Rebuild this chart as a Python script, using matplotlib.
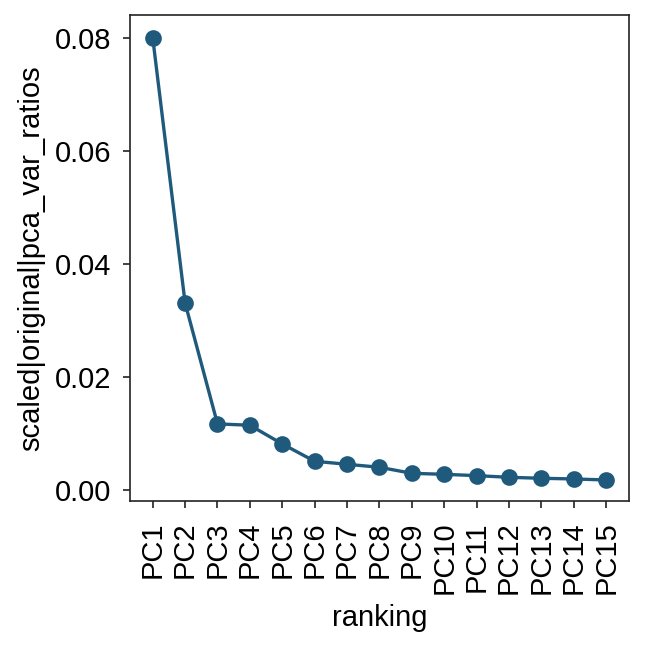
import matplotlib
matplotlib.use("Agg")
import matplotlib.pyplot as plt

categories = [f"PC{i}" for i in range(1, 16)]
values = [0.0801, 0.0331, 0.0117, 0.01146, 0.00815, 0.00508, 0.00455, 0.00402,
          0.00295, 0.00277, 0.00254, 0.00224, 0.00207, 0.00195, 0.00177]

plt.rcParams['font.family'] = ['Liberation Sans', 'DejaVu Sans']
color = '#1f5a7c'

fig = plt.figure(figsize=(4.30, 4.3267), dpi=150)
ax = fig.add_axes([0.2016, 0.2285, 0.7734, 0.7484])
x = list(range(len(categories)))
ax.plot(x, values, color=color, lw=1.6, marker='o', markersize=7, zorder=3)
ax.set_xticks(x)
ax.set_xticklabels(categories, rotation=90, fontsize=14)
ax.set_yticks([0.0, 0.02, 0.04, 0.06, 0.08])
ax.set_yticklabels(['0.00', '0.02', '0.04', '0.06', '0.08'], fontsize=14)
ax.set_xlim(-0.7, 14.7)
ax.set_ylim(-0.0019, 0.0841)
ax.set_xlabel('ranking', fontsize=14, labelpad=4.5)
ax.set_ylabel('scaled|original|pca_var_ratios', fontsize=14, labelpad=4.5)
ax.tick_params(length=3.5, width=0.8, color='#222222')
ax.tick_params(axis='x', pad=6.5)
ax.tick_params(axis='y', pad=5.5)
for s in ax.spines.values():
    s.set_linewidth(0.8)
    s.set_color('#222222')
fig.savefig('out.png', dpi=150)
